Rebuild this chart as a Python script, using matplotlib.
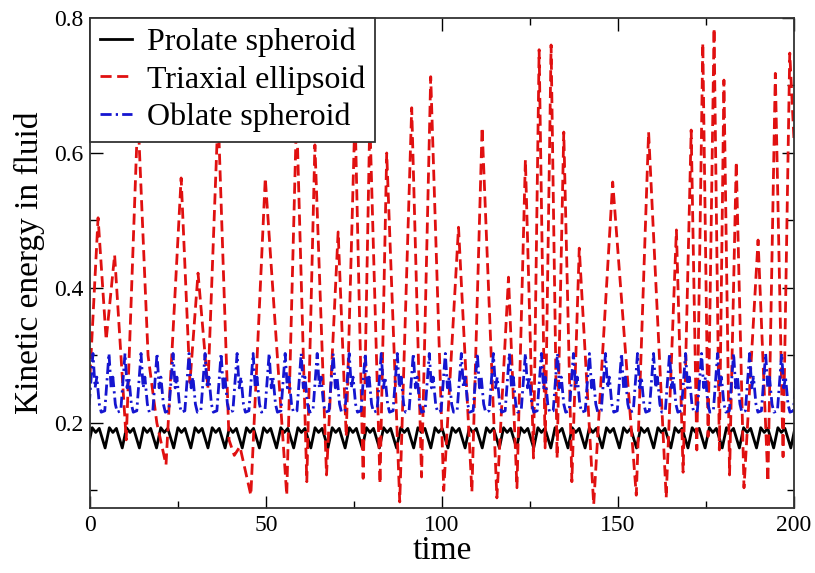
import matplotlib
matplotlib.use("Agg")
import matplotlib.pyplot as plt
from matplotlib.ticker import FixedLocator

plt.rcParams['font.family'] = ['Liberation Serif', 'DejaVu Serif']

# ---------------- data ----------------
# Triaxial ellipsoid: successive extrema (time, kinetic energy)
triaxial_t = [0, 2.3, 4.6, 7.0, 10.3, 13.6, 16.5, 19.0, 21.6, 25.9, 28.4, 30.7, 33.5,
              36.4, 39.5, 41.0, 42.6, 45.7, 49.8, 55.9, 58.7, 61.6, 63.9, 67.2, 70.5,
              72.8, 75.3, 77.6, 79.5, 82.4, 84.3, 88.0, 91.4, 94.2, 96.8, 100.5, 104.7,
              108.5, 111.4, 115.6, 118.9, 121.3, 123.7, 126.0, 127.6, 129.3, 131.0,
              132.7, 134.6, 136.9, 139.0, 143.1, 148.5, 155.2, 158.7, 163.7, 166.6,
              168.5, 170.8, 172.4, 174.1, 175.6, 177.3, 178.8, 180.1, 181.7, 183.6,
              185.8, 189.8, 192.6, 194.7, 196.9, 198.8, 200.0]
triaxial_v = [0.27, 0.504, 0.323, 0.449, 0.175, 0.66, 0.30, 0.20, 0.138, 0.563, 0.26, 0.422, 0.252,
              0.66, 0.175, 0.152, 0.165, 0.093, 0.563, 0.093, 0.66, 0.113, 0.612, 0.123, 0.483,
              0.18, 0.66, 0.118, 0.65, 0.11, 0.60, 0.083, 0.667, 0.12, 0.713, 0.10, 0.49,
              0.098, 0.638, 0.089, 0.416, 0.104, 0.59, 0.148, 0.753, 0.163, 0.76,
              0.148, 0.631, 0.113, 0.459, 0.079, 0.557, 0.093, 0.631, 0.089, 0.486,
              0.127, 0.634, 0.16, 0.763, 0.18, 0.785, 0.16, 0.708, 0.123, 0.587,
              0.104, 0.471, 0.113, 0.718, 0.15, 0.748, 0.62]

# Prolate spheroid: times of each cycle's trough, and the cycle's key levels
prolate_trough_t = [-0.57, 4.3, 9.17, 14.04, 18.91, 23.78, 28.65, 33.52, 38.39, 43.26, 48.13,
                    53.0, 57.87, 62.74, 67.61, 72.48, 77.35, 82.22, 87.09, 91.96, 96.83,
                    101.7, 106.57, 111.44, 116.31, 121.18, 126.05, 130.92, 135.79, 140.66,
                    145.53, 150.4, 155.27, 160.14, 165.01, 169.88, 174.75, 179.62, 184.49,
                    189.36, 194.23, 199.1]
prolate_cycle_dt = [0.0, 1.2, 2.2, 3.2]
prolate_cycle_v = [0.163, 0.193, 0.186, 0.192]

# Oblate spheroid: times of each cycle's main peak, and the cycle's key levels
oblate_peak_t = [-3.7, 0.85, 5.4, 9.95, 14.5, 19.05, 23.6, 28.15, 32.7, 37.25, 41.8, 46.35,
                 50.9, 55.45, 60.0, 64.55, 69.1, 73.65, 78.2, 82.75, 87.3, 91.85, 96.4,
                 100.95, 105.5, 110.05, 114.6, 119.15, 123.7, 128.25, 132.8, 137.35,
                 141.9, 146.45, 151.0, 155.55, 160.1, 164.65, 169.2, 173.75, 178.3,
                 182.85, 187.4, 191.95, 196.5, 201.05]
oblate_cycle_dt = [-2.2, -1.2, 0.0, 0.6, 1.1, 1.8]
oblate_cycle_v = [0.216, 0.218, 0.303, 0.252, 0.268, 0.228]

series_labels = ["Prolate spheroid", "Triaxial ellipsoid", "Oblate spheroid"]
x_ticks = [0, 50, 100, 150, 200]
y_ticks = [0.2, 0.4, 0.6, 0.8]

# build polylines from cycle readings
prolate_t, prolate_v = [], []
for t0 in prolate_trough_t:
    for dt, v in zip(prolate_cycle_dt, prolate_cycle_v):
        prolate_t.append(t0 + dt)
        prolate_v.append(v)
oblate_t, oblate_v = [], []
for t0 in oblate_peak_t:
    for dt, v in zip(oblate_cycle_dt, oblate_cycle_v):
        oblate_t.append(t0 + dt)
        oblate_v.append(v)

# ---------------- figure ----------------
fig = plt.figure(figsize=(8.15, 5.73), dpi=100)
ax = fig.add_axes([0.1104, 0.1134, 0.8638, 0.8552])

ax.plot(prolate_t, prolate_v, color='black', lw=2.0, label=series_labels[0])
ax.plot(triaxial_t, triaxial_v, color='#e01010', lw=2.0, dashes=(4.0, 2.0),
        label=series_labels[1])
ax.plot(oblate_t, oblate_v, color='#1515d0', lw=2.0, dashes=(4.0, 1.5, 0.8, 1.5),
        label=series_labels[2])

ax.set_xlim(0, 200)
ax.set_ylim(0.074, 0.8)
ax.set_xticks(x_ticks)
ax.set_xticklabels([str(v) for v in x_ticks])
ax.set_yticks(y_ticks)
ax.set_yticklabels([f"{v:.1f}" for v in y_ticks])
ax.xaxis.set_minor_locator(FixedLocator([25, 75, 125, 175]))
ax.yaxis.set_minor_locator(FixedLocator([0.1, 0.3, 0.5, 0.7]))
ax.tick_params(which='both', direction='in', top=True, right=True, labelsize=17,
               width=1.0, pad=5)
ax.tick_params(which='major', length=9)
ax.tick_params(which='minor', length=5)
for s in ax.spines.values():
    s.set_linewidth(1.3)
    s.set_color('#333333')

ax.set_xlabel("time", fontsize=24, labelpad=0)
ax.set_ylabel("Kinetic energy in fluid", fontsize=24, labelpad=6)

leg = ax.legend(loc='upper left', fontsize=23, frameon=True, fancybox=False,
                framealpha=1.0, edgecolor='#333333', borderaxespad=0.0,
                borderpad=0.3, labelspacing=0.25, handlelength=1.0,
                handletextpad=0.5)
leg.get_frame().set_linewidth(1.3)
leg.set_zorder(10)

fig.savefig("out.png", dpi=100)
